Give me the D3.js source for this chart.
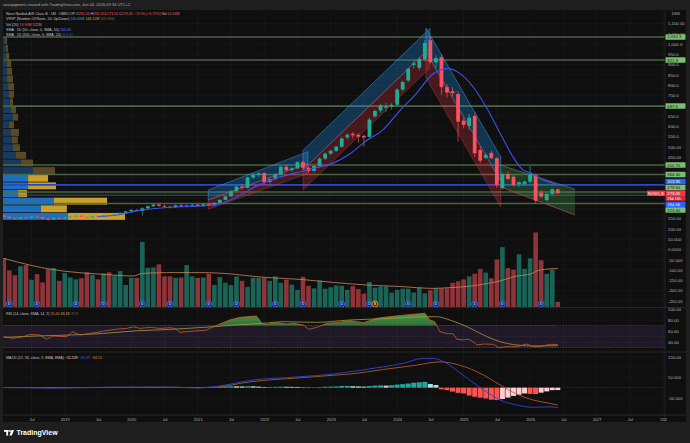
<!DOCTYPE html>
<html>
<head>
<meta charset="utf-8">
<title>NOVO B 1M</title>
<script src="https://cdn.jsdelivr.net/npm/d3@7"></script>
<style>
  html, body { margin: 0; padding: 0; background: #1e1e1e; }
  svg { display: block; font-family: "Liberation Sans", Arial, sans-serif; }
</style>
</head>
<body>
<div id="chart"></div>
<script>
// monthly bars, Feb 2018 .. Jun 2026 (bar index 0..100)
var opens = [166,158,152,148,156,152,160,157,150,146, 153,149,155,160,164,158,155,162,158,166,
  163,170,178,185,192,187,200,210,218,212, 208,205,215,209,214,218,211,220,214,226,
  241,258,284,306,300,350,362,372,328,342, 364,402,386,394,425,398,382,406,442,466,
  480,500,545,563,558,553,548,648,676,690, 696,704,778,822,898,884,926,1018,910,935,
  790,770,756,627,600,650,484,446,470,444, 298,367,354,318,319,330,362,276,240,270, 292];
var highs = [170,163,156,160,159,163,164,160,153,157, 156,158,163,167,168,161,165,166,169,170,
  174,181,188,196,198,206,214,222,224,218, 213,219,219,218,222,221,224,224,230,245,
  262,290,312,318,355,372,376,378,352,372, 408,412,400,430,432,405,412,448,472,485,
  505,548,565,572,566,560,640,680,708,715, 712,785,822,885,920,935,1020,1034,945,950,
  805,790,770,640,660,665,500,470,482,450, 375,378,362,332,335,406,370,290,275,298, 296.2];
var lows = [155,150,144,146,149,150,152,146,140,143, 143,147,153,157,155,151,153,155,156,160,
  161,168,175,182,184,165,196,206,209,203, 199,202,205,205,210,206,207,210,212,223,
  238,255,280,290,297,342,352,318,320,336, 360,378,378,390,392,372,376,402,436,460,
  474,495,535,540,520,500,545,640,665,670, 680,700,770,815,880,870,915,905,880,752,
  740,745,525,590,580,450,420,438,440,300, 290,336,305,305,310,322,225,250,232,262, 271.55];
var closes = [158,152,148,156,152,160,157,150,146,153, 149,155,160,164,158,155,162,158,166,163,
  170,178,185,192,187,200,210,218,212,208, 205,215,209,214,218,211,220,214,226,241,
  258,284,306,300,350,362,370,328,342,364, 402,386,394,425,398,382,406,442,466,480,
  500,540,558,556,549,545,632,674,702,698, 704,778,815,880,906,928,1005,912,932,790,
  764,761,622,606,642,468,432,460,444,314, 367,343,314,327,330,367,237,257,270,292.95, 273.05];
// volume, millions of shares
var volumes = [132,99,86,110,113,74,89,67,102,105, 71,92,80,75,78,94,87,75,91,94,
  85,97,60,79,79,175,106,107,115,83, 83,79,80,113,83,79,80,90,60,81,
  66,60,83,71,55,79,79,79,71,83, 66,74,61,47,82,58,51,72,50,54,
  59,58,47,57,49,37,68,53,56,56, 40,47,50,50,40,53,38,46,51,51,
  51,66,70,75,83,90,103,93,78,128, 161,105,101,142,103,131,200,126,90,101, 14.94];

// Vol (20) average, read at bar positions
var volMaAt  = [0,5.3,11.4,17.4,23.3,25.1,29.4,35.4,41.4,44.4,47.5,53.5,59.4,65.5,71.5,77.5,80.5,83.6,86.5,89.6,92.6,95,96.8,100];
var volMaVal = [131,111,96,89,84,91,93,93,89,84,80,75,67,60,56,51,53,56,62,71,84,89,100,104];

// SMA 1D(200) as drawn on the monthly chart
var smaAt  = [17,20,24.6,30,36.6,39,42.6,45,48.6,53.5,56,59.4,62.5,65.5,68.4,71.5,74.5,77.5,80.2,82.3,84.7,87.2,89.6,91.9,93.7,95.5,97.3,99.1,100];
var smaVal = [160,166,190,205,213,222,262,300,342,378,395,420,466,530,581,676,760,855,880,857,792,687,565,451,387,368,338,322,313.3];

// dividends / split
var divAt = [1,6,13,18,25,30,37,42,49,54,61,66,73,78,85,90,97];
var splitAt = [67];

// drawn horizontal levels
var levels = [1034.3, 921.9, 697.6, 410.7, 364.3, 279.5, 223.4];
var sma200Line = 313.9, sma50Line = 264.06;

// regression channels: [bar0, bar1, top0, top1, mid0, mid1, bot0, bot1]
var channels = [
  [36.9, 54.9, 289, 476, 240, 419, 195, 370],
  [54.0, 76.9, 482, 1075, 387, 980, 289, 883],
  [76.2, 89.7, 1078, 450, 961, 333, 835, 206]
];
// falling wedge: [bar0, bar1, top0, top1, bot0, bot1]
var wedge = [89.6, 103.1, 411, 293, 305, 167.5];

// visible range volume profile, rows from bottom (142) to top (1034.3), millions
var vpLow = 142, vpHigh = 1034.3;
var vpUp   = [31.9,18.6,25,7.4,12.3,12.3,14.7,8.8,6.4,4.9,4.4,3.9,2.9,4.9,3.9,3.3,2.9,2.5,2,2,2,1.5,1.5,1];
var vpDown = [27.9,12.7,26,4.4,13.7,9.8,10.8,5.9,4.9,3.4,2.9,3.9,2.5,2.5,2.5,1.6,2.5,2.9,2.9,2.5,2,1.5,1,1];
var vpValueRows = 6;

// RSI(14) and its SMA(14)
var rsiAt  = [0,1.7,3.5,4.7,6.5,7.7,8.9,11.4,12.3,13.8,15.6,16.8,18,20.4,22.2,23.4,24.6,26.4,28.2,30,30.9,31.8,34.2,36.6,37.8,39,40.8,42.6,45.6,46.6,47.5,49.3,51.1,52.3,54.1,55,56.5,58.3,60.1,62.5,64.9,67.3,69.7,72.7,76,76.9,77.8,78.7,79.9,81.1,81.8,82.9,83.8,84.7,85.4,86.6,88.4,89.3,90.8,92.6,94.4,95.6,96.8,98.6,100];
var rsiVal = [49.7,46.8,49.7,54,52.8,45,51,49.7,58.9,52.8,55.8,57.6,60,63.7,65,67.9,65,66.8,65,66.2,65,57.6,60,61.8,67.9,73,80.4,85.3,87.7,74.3,72.5,75.4,73,74.3,71.2,63.3,66.8,74.3,75.4,79.1,75.4,83.5,86.6,89.7,92.7,80.4,77.2,58.9,55.8,54.7,45,43.7,45.5,40.6,34.5,36.3,35.8,29.6,31.4,31.4,36.3,31.4,31.4,35.8,35.4];
var rsiMaAt  = [0,5.9,11.9,18,24,30,36,42,46.8,50.5,56.5,62.5,68.4,76.3,78.1,80.5,83.6,86.6,89.6,92.6,95.6,100];
var rsiMaVal = [48.5,51,52.8,55.8,60.6,63.1,66.8,71.2,74.3,77.2,76.1,80.4,82.7,86.4,86.4,80.4,68.1,52.8,40.6,34.5,32.7,33.2];

// MACD(12,26,9)
var macdAt  = [0,10,20,30,35,38.4,44.4,53.5,59.5,62.5,68.5,72.1,75.7,77.5,79.9,82.9,86.6,89.6,92.6,95.6,98.6,100];
var macdVal = [1,-1.5,2.5,2.5,-1,6,35,53,66,77,101,118,142,142,118,61,-11,-60,-84,-95,-93,-96.09];
var signalAt  = [0,10,20,30,35,38.4,44.4,53.5,59.5,62.5,68.5,74.5,78.7,82.3,86.6,89.6,92.6,95.6,98.6,100];
var signalVal = [0.5,-0.5,1.5,2,0,3,28,48,60,66,88,109,125,109,61,13,-31,-60,-76,-84.55];
var macdHist = [0.4,0.6,0.3,-0.2,0.5,0.8,0.3,-1.5,-2.5,-2, -1,0.5,1,1.5,1,0.5,0.8,1,1.5,1,
  1.2,1.8,2,2.2,1.5,2,2.5,2.2,1.5,1, 0.6,0.8,0.5,0.2,-1,-1.8,-1.5,-0.5,2,4,
  6,7,6.5,6,7,6.5,5,3,3.5,4, 5,4.5,4,3.5,2,1.5,2,3,4.5,5,
  6,8,8.5,7,6,5,8,10,11,10, 12,15,17,20,24,26,28,18,13,-8,
  -12,-19,-25,-28,-38,-44,-48,-52,-58,-60, -55,-48,-40,-34,-28,-30,-31,-24,-18,-12, -11.539];

// axis ticks
var xLabels = ["Jul","2019","Jul","2020","Jul","2021","Jul","2022","Jul","2023","Jul","2024","Jul","2025","Jul","2026","Jul","2027","Jul","202"];
var priceTicks = [1100,1050,1000,950,900,850,800,750,700,650,600,550,500,450,400,350,300,250,200,150,100,50,0,-50,-100,-150,-200,-250];
var priceTickLabels = ["1,100.00","1,050.00","1,000.0","950.0","900.0","850.0","800.0","750.0","700.0","650.0","600.0","550.0","500.00","450.00","400.00","350.00","300.00","250.00","200.00","150.00","100.00","50.000","0.0000","-50.000","-100.00","-150.00","-200.00","-250.00"];
var rsiTicks = [100,80,60,40], rsiTickLabels = ["100.00","80.00","60.00","40.00"];
var macdTicks = [150,50,-50], macdTickLabels = ["150.00","50.000","-50.000"];

// price axis tags
var tagText  = ["1,034.3","921.9","697.6","410.70","364.30","313.90","279.50","273.05","264.06","223.40"];
var tagPrice = [1034.3, 921.9, 697.6, 410.7, 364.3, 313.9, 279.5, 273.05, 264.06, 223.4];
var tagKind  = ["level","level","level","level","level","sma","level","last","sma","level"];
var countdown = "26d 14h";

var W = 690, H = 443;
var up = "#22ab94", down = "#f7525f";
var gridC = "#1b1b1b", textC = "#b2b5be";

var x = d3.scaleLinear().domain([0, 119]).range([3.8, 3.8 + 119 * 5.54]);
var y = d3.scaleLinear().domain([0, 1000]).range([249.4, 44]);
var yVol = d3.scaleLinear().domain([0, 200]).range([307.5, 232.5]);
var yRsi = d3.scaleLinear().domain([40, 100]).range([342, 309.3]);
var yMacd = d3.scaleLinear().domain([-50, 150]).range([398, 356.7]);

var svg = d3.select("#chart").append("svg").attr("width", W).attr("height", H);
var defs = svg.append("defs");
svg.append("rect").attr("width", W).attr("height", H).attr("fill", "#1e1e1e");
svg.append("rect").attr("x", 3).attr("y", 10).attr("width", 683).attr("height", 412).attr("fill", "#0f0f0f");

function clip(id, y0, y1) {
  defs.append("clipPath").attr("id", id).append("rect")
    .attr("x", 3).attr("y", y0).attr("width", 662).attr("height", y1 - y0);
}
clip("clipMain", 10, 307.5);
clip("clipRsi", 307.5, 352);
clip("clipMacd", 352, 415);

var g = defs.append("linearGradient").attr("id", "rsiGreen").attr("x1", 0).attr("x2", 0).attr("y1", 0).attr("y2", 1);
g.append("stop").attr("offset", "0%").attr("stop-color", "#4caf50").attr("stop-opacity", 0.85);
g.append("stop").attr("offset", "100%").attr("stop-color", "#4caf50").attr("stop-opacity", 0.15);

// header
svg.append("text").attr("x", 3).attr("y", 6).attr("font-size", 4).attr("fill", "#a9acb4")
  .text("savepigment created with TradingView.com, Jun 04, 2026 09:33 UTC+2");

// grid
var xTickAt = d3.range(5, 120, 6);
var grid = svg.append("g").attr("stroke", gridC).attr("stroke-width", 0.6);
grid.selectAll("line.v").data(xTickAt).join("line")
  .attr("x1", d => x(d)).attr("x2", d => x(d)).attr("y1", 10).attr("y2", 415);
grid.selectAll("line.p").data(priceTicks).join("line")
  .attr("x1", 3).attr("x2", 665).attr("y1", d => y(d)).attr("y2", d => y(d));
grid.selectAll("line.r").data(rsiTicks).join("line")
  .attr("x1", 3).attr("x2", 665).attr("y1", d => yRsi(d)).attr("y2", d => yRsi(d));
grid.selectAll("line.m").data([150, 100, 50, -50]).join("line")
  .attr("x1", 3).attr("x2", 665).attr("y1", d => yMacd(d)).attr("y2", d => yMacd(d));

var main = svg.append("g").attr("clip-path", "url(#clipMain)");

// volume profile
var rowStep = (vpHigh - vpLow) / vpUp.length;
var vpMax = d3.max(vpUp.map((u, k) => u + vpDown[k]));
var vpW = d3.scaleLinear().domain([0, vpMax]).range([0, 122]);
var vp = main.append("g");
vpUp.forEach(function(u, k) {
  var yt = y(vpLow + (k + 1) * rowStep) + 0.35, yb = y(vpLow + k * rowStep) - 0.35;
  var bright = k < vpValueRows;
  vp.append("rect").attr("x", 3).attr("y", yt).attr("width", vpW(u)).attr("height", yb - yt)
    .attr("fill", bright ? "#1f6fbf" : "#173b5e");
  vp.append("rect").attr("x", 3 + vpW(u)).attr("y", yt).attr("width", vpW(vpDown[k])).attr("height", yb - yt)
    .attr("fill", bright ? "#c9a02a" : "#5a4a22");
});

// horizontal levels
main.selectAll("line.lvl").data(levels).join("line")
  .attr("x1", 3).attr("x2", 665).attr("y1", d => y(d)).attr("y2", d => y(d))
  .attr("stroke", "#4f6e48").attr("stroke-width", 1.6).attr("opacity", 0.9);
main.append("line").attr("x1", 3).attr("x2", 665).attr("y1", y(sma200Line)).attr("y2", y(sma200Line))
  .attr("stroke", "#2b48c8").attr("stroke-width", 1.8);
main.append("line").attr("x1", 3).attr("x2", 665).attr("y1", y(sma50Line)).attr("y2", y(sma50Line))
  .attr("stroke", "#56637f").attr("stroke-width", 0.8);

// channels
function poly(pts) { return "M" + pts.map(p => p.join(",")).join("L") + "Z"; }
channels.forEach(function(c) {
  var x0 = x(c[0]), x1 = x(c[1]);
  main.append("path").attr("d", poly([[x0, y(c[2])], [x1, y(c[3])], [x1, y(c[5])], [x0, y(c[4])]]))
    .attr("fill", "rgba(33,150,243,0.28)").attr("stroke", "rgba(60,150,230,0.75)").attr("stroke-width", 0.7);
  main.append("path").attr("d", poly([[x0, y(c[4])], [x1, y(c[5])], [x1, y(c[7])], [x0, y(c[6])]]))
    .attr("fill", "rgba(242,54,69,0.25)").attr("stroke", "rgba(200,70,70,0.6)").attr("stroke-width", 0.6);
});
(function() {
  var x0 = x(wedge[0]), x1 = x(wedge[1]);
  main.append("path").attr("d", poly([[x0, y(wedge[2])], [x1, y(wedge[3])], [x1, y(wedge[5])], [x0, y(wedge[4])]]))
    .attr("fill", "rgba(76,175,80,0.26)");
  main.append("line").attr("x1", x0).attr("y1", y(wedge[2])).attr("x2", x1).attr("y2", y(wedge[3]))
    .attr("stroke", "#6d8a6a").attr("stroke-width", 0.6);
  main.append("line").attr("x1", x0).attr("y1", y(wedge[4])).attr("x2", x1).attr("y2", y(wedge[5]))
    .attr("stroke", "#b04848").attr("stroke-width", 0.8);
})();

var bars = d3.range(opens.length);
var isUp = i => closes[i] >= opens[i];

// volume
main.selectAll("rect.vol").data(bars).join("rect")
  .attr("x", i => x(i) - 2.3).attr("width", 4.6)
  .attr("y", i => yVol(volumes[i])).attr("height", i => yVol(0) - yVol(volumes[i]))
  .attr("fill", i => isUp(i) ? "rgba(34,171,148,0.55)" : "rgba(247,82,95,0.55)");
main.append("path").datum(volMaAt)
  .attr("d", d3.line().x(d => x(d)).y((d, k) => yVol(volMaVal[k])).curve(d3.curveMonotoneX))
  .attr("fill", "none").attr("stroke", "#c98a5a").attr("stroke-width", 0.8);

// dividend / split markers
function marker(at, letter, ring, fill, txt) {
  var mk = main.selectAll(null).data(at).join("g").attr("transform", d => "translate(" + x(d) + ",304)");
  mk.append("circle").attr("r", 3).attr("fill", fill).attr("stroke", ring).attr("stroke-width", 0.8);
  mk.append("text").attr("y", 1.3).attr("text-anchor", "middle").attr("font-size", 3.6)
    .attr("font-weight", "bold").attr("fill", txt).text(letter);
}
marker(divAt, "D", "#3d6df0", "#13306f", "#9db7ff");
marker(splitAt, "S", "#f5a623", "#4a3000", "#ffd28a");

// candles
main.selectAll("line.wick").data(bars).join("line")
  .attr("x1", i => x(i)).attr("x2", i => x(i))
  .attr("y1", i => y(highs[i])).attr("y2", i => y(lows[i]))
  .attr("stroke", i => isUp(i) ? up : down).attr("stroke-width", 0.7);
main.selectAll("rect.body").data(bars).join("rect")
  .attr("x", i => x(i) - 1.9).attr("width", 3.8)
  .attr("y", i => y(Math.max(opens[i], closes[i])))
  .attr("height", i => Math.max(0.8, Math.abs(y(opens[i]) - y(closes[i]))))
  .attr("fill", i => isUp(i) ? up : down);

// SMA curve
main.append("path").datum(smaAt)
  .attr("d", d3.line().x(d => x(d)).y((d, k) => y(smaVal[k])).curve(d3.curveMonotoneX))
  .attr("fill", "none").attr("stroke", "#3d50f5").attr("stroke-width", 1.1);

// last price line
var last = closes.length - 1;
main.append("line").attr("x1", 3).attr("x2", 665).attr("y1", y(closes[last])).attr("y2", y(closes[last]))
  .attr("stroke", "#f23645").attr("stroke-width", 0.6).attr("stroke-dasharray", "1,1.5").attr("opacity", 0.7);

// RSI pane
var rsi = svg.append("g").attr("clip-path", "url(#clipRsi)");
rsi.append("rect").attr("x", 3).attr("width", 662).attr("y", yRsi(70)).attr("height", yRsi(30) - yRsi(70))
  .attr("fill", "rgba(126,87,194,0.14)");
rsi.selectAll("line.band").data([70, 50, 30]).join("line")
  .attr("x1", 3).attr("x2", 665).attr("y1", d => yRsi(d)).attr("y2", d => yRsi(d))
  .attr("stroke", "#787b86").attr("stroke-width", 0.6).attr("stroke-dasharray", "1.2,1.6")
  .attr("opacity", d => d === 50 ? 0.35 : 0.8);
defs.append("clipPath").attr("id", "above70").append("rect")
  .attr("x", 3).attr("y", 307.5).attr("width", 662).attr("height", yRsi(70) - 307.5);
defs.append("clipPath").attr("id", "below30").append("rect")
  .attr("x", 3).attr("y", yRsi(30)).attr("width", 662).attr("height", 352 - yRsi(30));
var rsiArea = d3.area().x(d => x(d)).y1((d, k) => yRsi(rsiVal[k]));
rsi.append("g").attr("clip-path", "url(#above70)").append("path").datum(rsiAt)
  .attr("d", rsiArea.y0(yRsi(70))).attr("fill", "url(#rsiGreen)");
rsi.append("g").attr("clip-path", "url(#below30)").append("path").datum(rsiAt)
  .attr("d", d3.area().x(d => x(d)).y0(yRsi(30)).y1((d, k) => yRsi(rsiVal[k])))
  .attr("fill", "rgba(242,54,69,0.45)");
rsi.append("path").datum(rsiMaAt)
  .attr("d", d3.line().x(d => x(d)).y((d, k) => yRsi(rsiMaVal[k])).curve(d3.curveMonotoneX))
  .attr("fill", "none").attr("stroke", "#a89c35").attr("stroke-width", 0.8);
rsi.append("path").datum(rsiAt)
  .attr("d", d3.line().x(d => x(d)).y((d, k) => yRsi(rsiVal[k])))
  .attr("fill", "none").attr("stroke", "#c8602a").attr("stroke-width", 0.8);

// MACD pane
var macd = svg.append("g").attr("clip-path", "url(#clipMacd)");
macd.append("line").attr("x1", 3).attr("x2", 665).attr("y1", yMacd(0)).attr("y2", yMacd(0))
  .attr("stroke", "#787b86").attr("stroke-width", 0.5).attr("stroke-dasharray", "1.5,1.5").attr("opacity", 0.6);
function histColor(i) {
  var v = macdHist[i], p = i > 0 ? macdHist[i - 1] : 0;
  if (v >= 0) return v >= p ? "#26a69a" : "#b2dfdb";
  return v <= p ? "#ff5252" : "#ffcdd2";
}
macd.selectAll("rect.h").data(bars).join("rect")
  .attr("x", i => x(i) - 2.5).attr("width", 5)
  .attr("y", i => Math.min(yMacd(0), yMacd(macdHist[i])))
  .attr("height", i => Math.abs(yMacd(macdHist[i]) - yMacd(0)))
  .attr("fill", histColor);
macd.append("path").datum(signalAt)
  .attr("d", d3.line().x(d => x(d)).y((d, k) => yMacd(signalVal[k])).curve(d3.curveMonotoneX))
  .attr("fill", "none").attr("stroke", "#c4611e").attr("stroke-width", 0.8);
macd.append("path").datum(macdAt)
  .attr("d", d3.line().x(d => x(d)).y((d, k) => yMacd(macdVal[k])).curve(d3.curveMonotoneX))
  .attr("fill", "none").attr("stroke", "#2b45d8").attr("stroke-width", 0.9);

// separators
svg.append("line").attr("x1", 665).attr("x2", 665).attr("y1", 10).attr("y2", 422).attr("stroke", "#262626").attr("stroke-width", 0.8);
svg.selectAll("line.sep").data([307.5, 352, 415]).join("line")
  .attr("x1", 3).attr("x2", 686).attr("y1", d => d).attr("y2", d => d)
  .attr("stroke", "#2b2b2b").attr("stroke-width", 0.8);

// price axis tags (stacked around the last price)
var tagY = tagPrice.map(p => y(p));
var anchor = tagKind.indexOf("last"), gap = 5.9;
for (var k = anchor - 1; k >= 0; k--) tagY[k] = Math.min(tagY[k], tagY[k + 1] - gap);
var cdY = tagY[anchor] + 5;
for (k = anchor + 1; k < tagY.length; k++) tagY[k] = Math.max(tagY[k], (k === anchor + 1 ? cdY : tagY[k - 1]) + gap);
var blocked = tagY.concat([cdY]);

function styleAxis(sel) {
  sel.select(".domain").remove();
  sel.selectAll("text").attr("font-size", 4.3).attr("fill", textC).attr("font-family", "Liberation Sans, Arial, sans-serif");
}
// labels hidden behind a tag are left out, as TradingView does
var shownTicks = priceTicks.filter(d => !blocked.some(t => Math.abs(t - y(d)) < 3));
var pAxis = svg.append("g").attr("transform", "translate(665,0)")
  .call(d3.axisRight(y).tickValues(shownTicks)
    .tickFormat(d => priceTickLabels[priceTicks.indexOf(d)]).tickSize(0).tickPadding(3));
styleAxis(pAxis);
svg.append("g").attr("transform", "translate(665,0)")
  .call(d3.axisRight(yRsi).tickValues(rsiTicks).tickFormat((d, i) => rsiTickLabels[i]).tickSize(0).tickPadding(3))
  .call(styleAxis);
svg.append("g").attr("transform", "translate(665,0)")
  .call(d3.axisRight(yMacd).tickValues(macdTicks).tickFormat((d, i) => macdTickLabels[i]).tickSize(0).tickPadding(3))
  .call(styleAxis);

var tagFill = { level: "#7cbf72", sma: "#2962ff", last: "#f23645" };
var tagInk = { level: "#0f140f", sma: "#ffffff", last: "#ffffff" };
var tags = svg.append("g").attr("font-size", 4.2);
tagText.forEach(function(t, i) {
  tags.append("rect").attr("x", 665.5).attr("y", tagY[i] - 2.75).attr("width", 20).attr("height", 5.5).attr("rx", 0.6)
    .attr("fill", tagFill[tagKind[i]]);
  tags.append("text").attr("x", 667.3).attr("y", tagY[i] + 1.5).attr("fill", tagInk[tagKind[i]]).text(t);
});
tags.append("rect").attr("x", 665.5).attr("y", cdY - 2.5).attr("width", 20).attr("height", 5).attr("fill", "#c9303d");
tags.append("text").attr("x", 667.3).attr("y", cdY + 1.4).attr("fill", "#ffffff").attr("font-size", 3.8).text(countdown);
tags.append("rect").attr("x", 647).attr("y", tagY[anchor] - 2.75).attr("width", 18).attr("height", 5.5).attr("fill", "#f23645");
tags.append("text").attr("x", 656).attr("y", tagY[anchor] + 1.4).attr("text-anchor", "middle").attr("fill", "#ffffff")
  .attr("font-size", 3.8).text("NOVO_B");
svg.append("text").attr("x", 672).attr("y", 15).attr("font-size", 4).attr("fill", textC).text("DKK");

// time axis
var tAxis = svg.append("g").attr("transform", "translate(0,415)")
  .call(d3.axisBottom(x).tickValues(xTickAt).tickFormat((d, i) => xLabels[i]).tickSize(0).tickPadding(3.5));
styleAxis(tAxis);
tAxis.selectAll("text").attr("font-size", 4);

// legends
function legend(yy, parts) {
  var t = svg.append("text").attr("x", 6).attr("y", yy).attr("font-size", 3.6);
  parts.forEach(p => t.append("tspan").attr("fill", p[1]).text(p[0]));
}
var f2 = v => d3.format(".2f")(v).replace("-", "\u2212");
var chg = closes[last] - closes[last - 1];
var gray = "#c3c6ce", red = "#f7525f";
legend(14.6, [["Novo Nordisk A/S Class B \u00b7 1M \u00b7 OMXCOP  ", gray], ["O", gray], [f2(opens[last]), red],
  [" H", gray], [f2(highs[last]), red], [" L", gray], [f2(lows[last]), red], [" C", gray], [f2(closes[last]), red],
  [" " + f2(chg) + " (" + f2(chg / closes[last - 1] * 100) + "%)", red], ["  Vol ", gray], [volumes[last] + "M", red]]);
legend(20.2, [["VRVP (Number Of Rows, 24, Up/Down)  ", gray], ["180.66M  ", "#3d8fe0"], ["148.22M  ", "#d6a92c"], ["328.88M", "#5f626b"]]);
legend(25.5, [["Vol (20)  ", gray], [volumes[last] + "M  ", red], ["122M", "#e08a3c"]]);
legend(30.8, [["SMA \u00b7 1D (50, close, 0, SMA, 50)  ", gray], [f2(sma50Line), "#5570ff"]]);
legend(36.0, [["SMA \u00b7 1D (200, close, 0, SMA, 20)  ", gray], ["313.30", "#3247d8"]]);
legend(314.6, [["RSI (14, close, SMA, 14, 2)  ", gray], [f2(rsiVal[rsiVal.length - 1]) + "  ", "#e07a30"],
  ["33.18  ", "#cdbf3a"], ["\u2205  \u2205", "#787b86"]]);
legend(358.6, [["MACD (12, 26, close, 9, EMA, EMA)  ", gray], ["\u221211.539  ", "#ffcdd2"],
  [f2(macdVal[macdVal.length - 1]) + "  ", "#3d5cf0"], [f2(signalVal[signalVal.length - 1]), "#e0752a"]]);

// footer logo
var logo = svg.append("g").attr("fill", "#ffffff");
logo.append("rect").attr("x", 4).attr("y", 430).attr("width", 4.6).attr("height", 1.8);
logo.append("rect").attr("x", 6.3).attr("y", 430).attr("width", 1.8).attr("height", 5.6);
logo.append("circle").attr("cx", 10).attr("cy", 431).attr("r", 0.95);
logo.append("path").attr("d", "M11.6,430 L14,430 L11.8,435.6 L9.4,435.6 Z");
svg.append("text").attr("x", 16.5).attr("y", 435.3).attr("font-size", 7).attr("font-weight", "bold")
  .attr("fill", "#ffffff").text("TradingView");
</script>
</body>
</html>
